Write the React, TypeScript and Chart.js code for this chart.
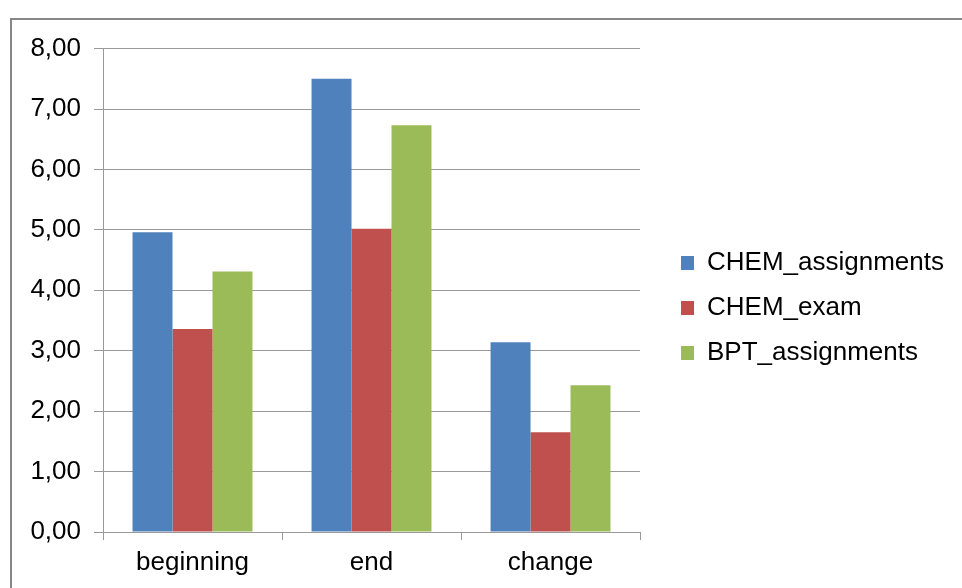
import React, { useEffect, useRef } from "react";
import { Chart, registerables } from "chart.js";

Chart.register(...registerables);

const categories = ["beginning", "end", "change"];
const chemAssignments = [4.96, 7.5, 3.14];
const chemExam = [3.36, 5.02, 1.65];
const bptAssignments = [4.31, 6.73, 2.43];
const seriesNames = ["CHEM_assignments", "CHEM_exam", "BPT_assignments"];
const seriesColors = ["#4F81BD", "#C0504D", "#9BBB59"];

const FONT = "'Liberation Sans', Arial, sans-serif";

const legendWidthPlugin = {
  id: "legendWidth",
  beforeLayout(chart: any) {
    const lg = chart.legend;
    if (lg && !lg.__patched) {
      const orig = lg.update.bind(lg);
      lg.update = (maxW: number, maxH: number, margins: any) =>
        orig(Math.max(maxW, 320), maxH, margins);
      lg.__patched = true;
    }
  },
};

export default function App() {
  const ref = useRef<HTMLCanvasElement | null>(null);

  useEffect(() => {
    if (!ref.current) return;
    const values = [chemAssignments, chemExam, bptAssignments];
    const chart = new Chart(ref.current, {
      type: "bar",
      data: {
        labels: categories,
        datasets: seriesNames.map((name, i) => ({
          label: name,
          data: values[i],
          backgroundColor: seriesColors[i],
          borderWidth: 0,
          categoryPercentage: 0.67,
          barPercentage: 1,
          xAxisID: "x",
          yAxisID: "y",
        })),
      },
      plugins: [legendWidthPlugin],
      options: {
        animation: false,
        responsive: false,
        maintainAspectRatio: false,
        layout: { padding: { top: 8, left: 0, right: 8, bottom: 0 } },
        plugins: {
          legend: {
            position: "right",
            labels: {
              color: "#000",
              font: { family: FONT, size: 26 },
              boxWidth: 13,
              boxHeight: 14,
              padding: 19,
            },
          },
          tooltip: { enabled: false },
        },
        scales: {
          x: {
            grid: {
              display: true,
              drawOnChartArea: false,
              drawTicks: true,
              tickLength: 8,
              offset: true,
              color: "#999",
            },
            border: { display: true, color: "#999" },
            ticks: {
              color: "#000",
              font: { family: FONT, size: 26 },
              padding: 7,
            },
            afterFit: (s: any) => {
              s.height = 56;
            },
          },
          x2: {
            position: "top",
            display: true,
            grid: { display: false },
            border: { display: false },
            ticks: { display: false },
            afterFit: (s: any) => {
              s.height = 20;
            },
          },
          y: {
            min: 0,
            max: 8,
            ticks: {
              stepSize: 1,
              color: "#000",
              font: { family: FONT, size: 26 },
              padding: 13,
              callback: (v: any) => Number(v).toFixed(2).replace(".", ","),
            },
            grid: { color: "#999", tickLength: 9 },
            border: { display: true, color: "#999" },
            afterFit: (s: any) => {
              s.width = 91;
            },
          },
          y2: {
            position: "right",
            display: true,
            grid: { display: false },
            border: { display: false },
            ticks: { display: false },
            afterFit: (s: any) => {
              s.width = 22;
            },
          },
        },
      },
    });
    return () => chart.destroy();
  }, []);

  return (
    <div
      style={{
        position: "fixed",
        left: 10,
        top: 18,
        right: 0,
        bottom: 0,
        borderTop: "2px solid #878787",
        borderLeft: "2px solid #878787",
        background: "#fff",
        overflow: "hidden",
      }}
    >
      <canvas ref={ref} width={950} height={568} style={{ display: "block" }} />
    </div>
  );
}
